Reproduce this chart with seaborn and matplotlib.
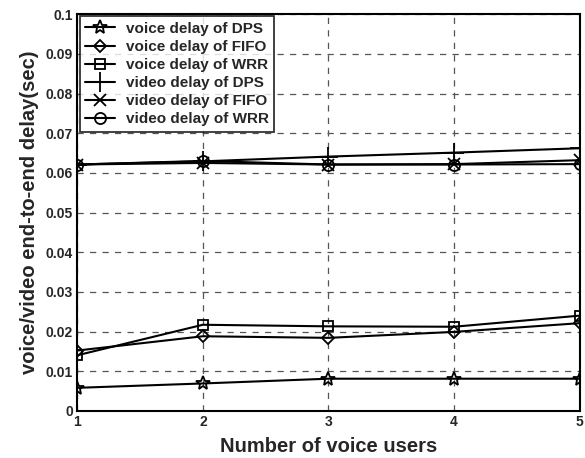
"""Voice/video end-to-end delay vs number of voice users."""

import matplotlib.pyplot as plt
import pandas as pd
import seaborn as sns

users = [1, 2, 3, 4, 5]

voice_dps = [0.0058, 0.0069, 0.0081, 0.0081, 0.0081]
voice_fifo = [0.0152, 0.0188, 0.0184, 0.0199, 0.0221]
voice_wrr = [0.0140, 0.0217, 0.0213, 0.0212, 0.0240]
video_dps = [0.0621, 0.0629, 0.0641, 0.0651, 0.0662]
video_fifo = [0.0621, 0.0625, 0.0621, 0.0622, 0.0632]
video_wrr = [0.0621, 0.0630, 0.0621, 0.0621, 0.0622]

series_names = [
    "voice delay of DPS",
    "voice delay of FIFO",
    "voice delay of WRR",
    "video delay of DPS",
    "video delay of FIFO",
    "video delay of WRR",
]
series_values = [voice_dps, voice_fifo, voice_wrr, video_dps, video_fifo, video_wrr]
markers = ["*", "D", "s", "+", "x", "o"]
marker_sizes = [10, 6.5, 7.5, 14, 8.5, 8]

df = pd.DataFrame(
    [
        {"users": u, "delay": v, "series": name}
        for name, vals in zip(series_names, series_values)
        for u, v in zip(users, vals)
    ]
)

sns.set_theme(style="white")
plt.rcParams["font.family"] = ["Liberation Sans", "DejaVu Sans"]
plt.rcParams["font.weight"] = "bold"

fig = plt.figure(figsize=(5.85, 4.58), dpi=100)
ax = fig.add_axes([0.132, 0.103, 0.859, 0.866])

for name, mk, ms in zip(series_names, markers, marker_sizes):
    sub = df[df["series"] == name]
    sns.lineplot(
        data=sub,
        x="users",
        y="delay",
        ax=ax,
        color="black",
        linewidth=1.5,
        marker=mk,
        markersize=ms,
        markerfacecolor="none",
        markeredgecolor="black",
        markeredgewidth=1.3,
        label=name,
    )

ax.set_xlim(1, 5)
ax.set_ylim(0, 0.1)
ax.set_xticks(users)
ax.set_yticks([i / 100 for i in range(11)])
ax.set_yticklabels(["0"] + [f"{i / 100:g}" for i in range(1, 11)])
ax.tick_params(direction="in", length=4, color="black", labelsize=10, pad=3)
for lbl in ax.get_xticklabels() + ax.get_yticklabels():
    lbl.set_fontweight("bold")

ax.grid(True, color="#555555", linestyle=(0, (5, 5)), linewidth=0.9)
for sp in ax.spines.values():
    sp.set_color("black")
    sp.set_linewidth(1.5)

ax.set_xlabel("Number of voice users", fontsize=14.5, fontweight="bold", labelpad=6)
ax.set_ylabel("voice/video end-to-end delay(sec)", fontsize=14.5, fontweight="bold", labelpad=5)

leg = ax.legend(
    loc="upper left",
    fontsize=11,
    frameon=True,
    fancybox=False,
    edgecolor="black",
    borderaxespad=0.15,
    labelspacing=0.27,
    handlelength=2.0,
    handletextpad=0.7,
    borderpad=0.35,
)
leg.get_frame().set_linewidth(1.3)
for t in leg.get_texts():
    t.set_fontweight("bold")

fig.savefig("out.png", dpi=100)
